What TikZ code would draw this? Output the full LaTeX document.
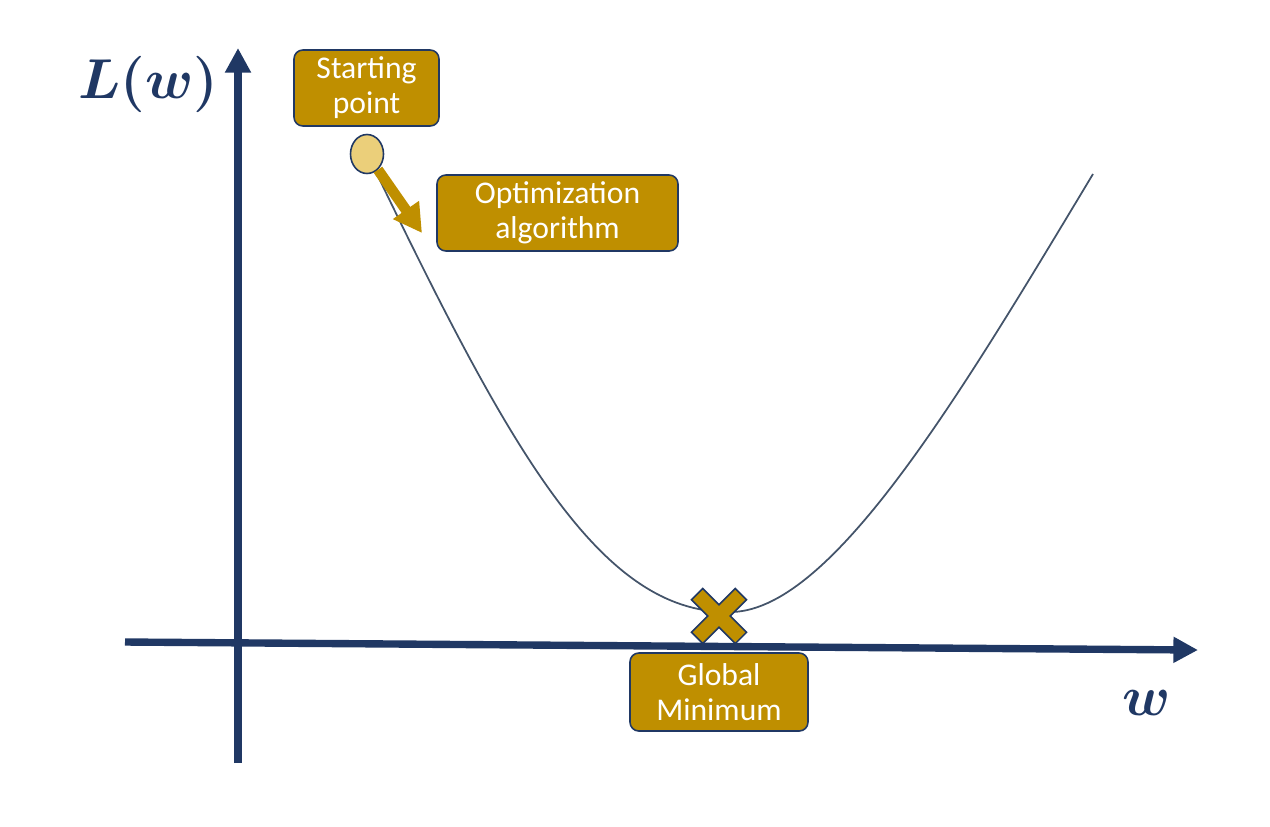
\RequirePackage{fix-cm}
\documentclass[tikz,border=0pt]{standalone}
\usepackage{fontspec}
\usepackage{tikz}
\usetikzlibrary{arrows.meta,shapes.geometric}
\newfontfamily\boxfont{Carlito}
\definecolor{navy}{HTML}{203864}
\definecolor{gold}{HTML}{BF8F00}
\definecolor{sand}{HTML}{EBCF7A}
\definecolor{curvecol}{HTML}{44546A}

\tikzset{
  box/.style={draw=navy, line width=0.9pt, fill=gold, rounded corners=5pt,
    text=white, align=center, inner sep=0pt,
    font=\boxfont\fontsize{18}{20}\selectfont},
  axis/.style={navy, line width=4.2pt, -{Triangle[length=14pt,width=14pt]}},
  lab/.style={text=navy, font=\fontsize{32}{36}\selectfont\boldmath}
}

\begin{document}
\begin{tikzpicture}[x=0.02cm, y=-0.02cm]
\useasboundingbox (0,0) rectangle (1270,826);

% loss curve
\draw[curvecol, line width=1pt] (375,170) .. controls (510,450) and (600,612) .. (728,612)
  .. controls (830,615) and (960,395) .. (1093,174);

% global minimum
\draw[fill=gold, draw=navy, line width=0.9pt, shift={(719,616)}, rotate=45]
  (8,31) -- (-8,31) -- (-8,8) -- (-31,8) -- (-31,-8) -- (-8,-8) -- (-8,-31)
  -- (8,-31) -- (8,-8) -- (31,-8) -- (31,8) -- (8,8) -- cycle;

\coordinate (ybot) at (238,763);
\coordinate (ytop) at (238,48);
\coordinate (xleft) at (125,642);
\coordinate (xright) at (1198,650);
\draw[axis] (ybot) -- (ytop);
\draw[axis] (xleft) -- (xright);

\node[lab] (lw) at (148,84) {$L(w)$};
\node[lab] (wlab) at (1147,703) {$w$};

\node[draw=navy, line width=0.9pt, fill=sand, ellipse, minimum width=33*0.02cm,
  minimum height=39*0.02cm, inner sep=0pt] (ball) at (367,154) {};
\coordinate (steptip) at (422,233);
\draw[gold, line width=6pt, -{Triangle[length=16pt,width=17pt]}] (ball) -- (steptip);

\node[box, minimum width=2.9cm, minimum height=1.52cm] (start) at (366.5,88) {Starting\\point};
\node[box, minimum width=4.82cm, minimum height=1.52cm] (opt) at (557.5,213) {Optimization\\algorithm};
\node[box, minimum width=3.56cm, minimum height=1.56cm] (globmin) at (719,692) {Global\\Minimum};
\end{tikzpicture}
\end{document}
